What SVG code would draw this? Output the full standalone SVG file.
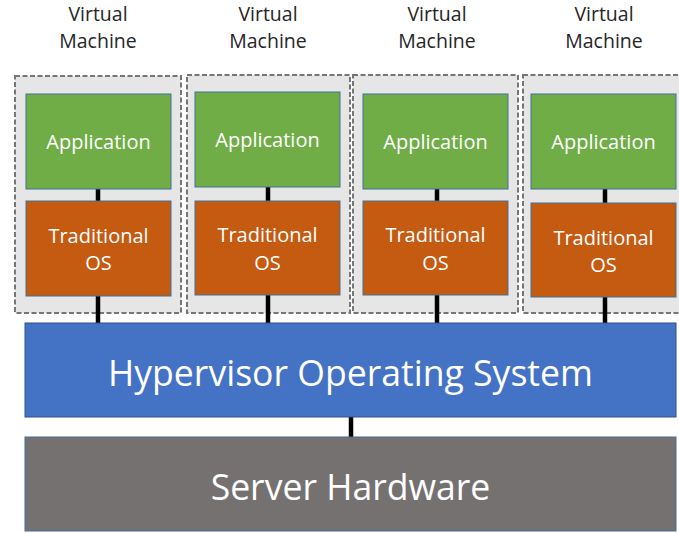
<svg xmlns="http://www.w3.org/2000/svg" width="679" height="533" viewBox="0 0 679 533">
  <style>
    .vm { fill: #E7E6E6; stroke: #767676; stroke-width: 2; stroke-dasharray: 5 2.5; }
    .app { fill: #70AD47; stroke: #41719C; stroke-width: 1; }
    .os { fill: #C55A11; stroke: #41719C; stroke-width: 1; }
    .hyp { fill: #4472C4; stroke: #2F528F; stroke-width: 1; }
    .hw { fill: #767171; stroke: #41719C; stroke-width: 1; }
    .lbl { font-family: "Open Sans", "Noto Sans", sans-serif; font-size: 19.5px; fill: #262626; text-anchor: middle; }
    .in { font-family: "Open Sans", "Noto Sans", sans-serif; font-size: 20px; fill: #FFFFFF; text-anchor: middle; }
    .big { font-family: "Open Sans", "Noto Sans", sans-serif; font-size: 35.6px; fill: #FFFFFF; text-anchor: middle; }
    .link { stroke: #000000; stroke-width: 4.5; fill: none; }
  </style>

  <!-- VM labels -->
  <g id="labels">
    <text class="lbl" x="98" y="21">Virtual</text>
    <text class="lbl" x="98" y="48">Machine</text>
    <text class="lbl" x="268" y="21">Virtual</text>
    <text class="lbl" x="268" y="48">Machine</text>
    <text class="lbl" x="437" y="21">Virtual</text>
    <text class="lbl" x="437" y="48">Machine</text>
    <text class="lbl" x="604" y="21">Virtual</text>
    <text class="lbl" x="604" y="48">Machine</text>
  </g>

  <!-- VM containers -->
  <g id="vm1"><rect class="vm" x="15" y="76" width="166" height="237"/></g>
  <g id="vm2"><rect class="vm" x="187" y="75" width="163" height="238"/></g>
  <g id="vm3"><rect class="vm" x="353" y="75" width="165" height="238"/></g>
  <g id="vm4"><rect class="vm" x="523" y="75" width="165" height="238"/></g>

  <!-- connectors -->
  <g id="connectors">
    <line class="link" x1="98" y1="189" x2="98" y2="201"/>
    <line class="link" x1="98" y1="296" x2="98" y2="323"/>
    <line class="link" x1="268" y1="187" x2="268" y2="201"/>
    <line class="link" x1="268" y1="295" x2="268" y2="323"/>
    <line class="link" x1="437" y1="189" x2="437" y2="201"/>
    <line class="link" x1="437" y1="295" x2="437" y2="323"/>
    <line class="link" x1="605" y1="189" x2="605" y2="203"/>
    <line class="link" x1="605" y1="297" x2="605" y2="323"/>
    <line class="link" x1="351" y1="417" x2="351" y2="437"/>
  </g>

  <!-- applications -->
  <g id="app1"><rect class="app" x="26" y="94" width="145" height="95"/><text class="in" x="98.5" y="149">Application</text></g>
  <g id="app2"><rect class="app" x="195" y="92" width="145" height="95"/><text class="in" x="267.5" y="147">Application</text></g>
  <g id="app3"><rect class="app" x="363" y="94" width="145" height="95"/><text class="in" x="435.5" y="149">Application</text></g>
  <g id="app4"><rect class="app" x="531" y="94" width="145" height="95"/><text class="in" x="603.5" y="149">Application</text></g>

  <!-- guest operating systems -->
  <g id="os1"><rect class="os" x="26" y="201" width="145" height="95"/><text class="in" x="98.5" y="243">Traditional</text><text class="in" x="98.5" y="270">OS</text></g>
  <g id="os2"><rect class="os" x="195" y="201" width="145" height="94"/><text class="in" x="267.5" y="242">Traditional</text><text class="in" x="267.5" y="270">OS</text></g>
  <g id="os3"><rect class="os" x="363" y="201" width="145" height="94"/><text class="in" x="435.5" y="242">Traditional</text><text class="in" x="435.5" y="270">OS</text></g>
  <g id="os4"><rect class="os" x="531" y="203" width="145" height="94"/><text class="in" x="603.5" y="245">Traditional</text><text class="in" x="603.5" y="272">OS</text></g>

  <!-- hypervisor and hardware layers -->
  <g id="hypervisor"><rect class="hyp" x="25" y="323" width="651" height="94"/><text class="big" x="350.5" y="386">Hypervisor Operating System</text></g>
  <g id="hardware"><rect class="hw" x="25" y="437" width="651" height="94"/><text class="big" x="350.5" y="500">Server Hardware</text></g>
</svg>
